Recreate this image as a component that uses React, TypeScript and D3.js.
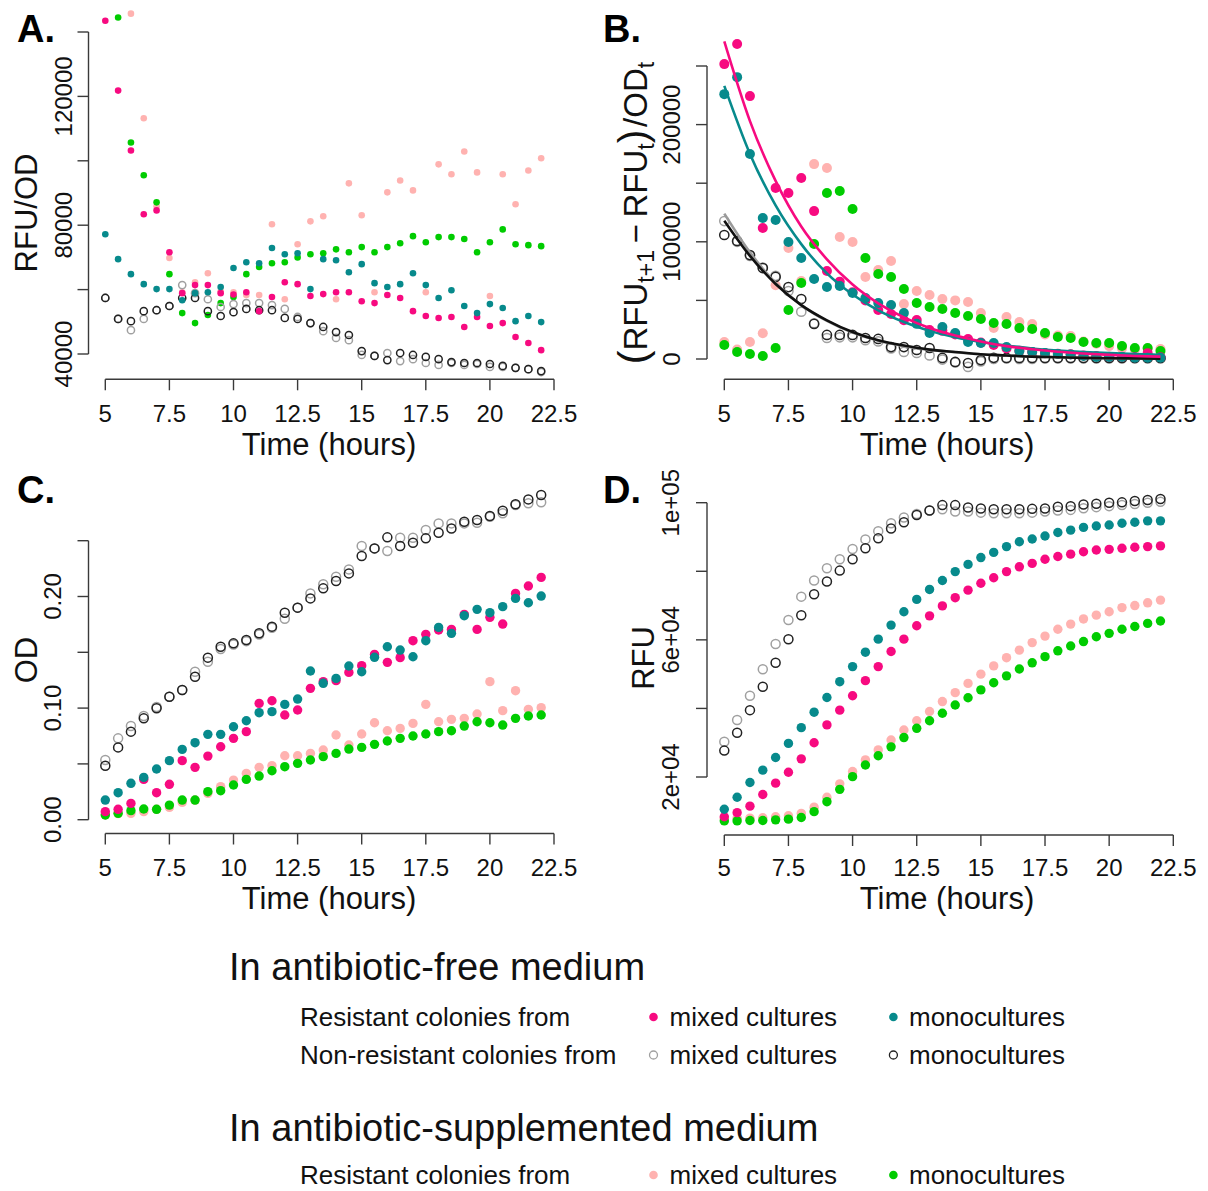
import React from 'react';
import * as d3 from 'd3';

const FONT = '"Liberation Sans", Arial, Helvetica, sans-serif';

// ---------- shared categories ----------
const TIMES = [5, 5.5, 6, 6.5, 7, 7.5, 8, 8.5, 9, 9.5, 10, 10.5, 11, 11.5, 12, 12.5, 13, 13.5, 14, 14.5, 15, 15.5, 16, 16.5, 17, 17.5, 18, 18.5, 19, 19.5, 20, 20.5, 21, 21.5, 22];
const X_TICKS = [5, 7.5, 10, 12.5, 15, 17.5, 20, 22.5];
const X_TICK_LABELS = ['5', '7.5', '10', '12.5', '15', '17.5', '20', '22.5'];

// ---------- Panel A: RFU/OD ----------
const A_RES_MIXED = [143500, 121800, 103200, 83400, 84600, 71600, 58900, 61400, 61400, 58900, 58500, 59200, 53300, 57700, 62300, 61700, 58000, 58600, 59200, 59200, 56400, 55800, 58300, 57400, 53300, 51800, 51200, 51500, 48400, 51500, 48700, 49600, 45300, 43400, 41200];
const A_RES_MONO = [77200, 69450, 64800, 61700, 60150, 60150, 56700, 58900, 59200, 60800, 66700, 68500, 68200, 72900, 71000, 71300, 60150, 69450, 69100, 65400, 67900, 62000, 60800, 61700, 65100, 61400, 57400, 59800, 54900, 52700, 55500, 54300, 50200, 51800, 49900];
const A_NONRES_MIXED = [57400, 50900, 47400, 50900, 53600, 54900, 61400, 58900, 57000, 54600, 55500, 55800, 55800, 55200, 54000, 51500, 49600, 47100, 45000, 44300, 39700, 39400, 40300, 37800, 38400, 37200, 36600, 37200, 36600, 36900, 36000, 36000, 35700, 35300, 34400];
const A_NONRES_MONO = [57400, 50900, 50200, 53300, 53600, 54900, 57400, 57400, 53300, 51800, 53000, 54000, 53600, 53600, 51200, 50900, 49600, 48400, 46800, 45900, 40900, 39400, 38100, 40300, 39700, 39100, 38400, 37500, 37200, 37200, 36900, 36300, 35700, 35300, 34700];
const A_AB_MIXED = [null, null, 145700, 113200, 85900, 69800, 59200, 62300, 65100, 59500, 59200, 58300, 58300, 80300, 57000, 74100, 81200, 82800, 57000, 93000, 83100, 59200, 90200, 93900, 90800, 59200, 98900, 95800, 102900, 96400, 58000, 95800, 86500, 97000, 100800];
const A_AB_MONO = [null, 144500, 105700, 95500, 87100, 64800, 52700, 49600, 52100, 55800, 57700, 64800, 67000, 68200, 68500, 70000, 71000, 71300, 72500, 71600, 73200, 71600, 73200, 74400, 76600, 74700, 76300, 76300, 75700, 71600, 74700, 78700, 74100, 73800, 73500];
const A_Y_TICKS = [40000, 60000, 80000, 100000, 120000, 140000];
const A_Y_LABELS = ['40000', '', '80000', '', '120000', ''];

// ---------- Panel B: (RFU_t+1 - RFU_t)/OD_t ----------
const B_RES_MIXED = [251600, 268700, 224300, 111700, 145900, 141600, 154400, 126200, 75100, 66000, 57000, 50000, 41800, 38400, 33000, 33300, 24700, 24000, 21000, 17000, 14000, 12000, 9000, 7000, 6000, 5000, 4500, 4000, 3000, 2500, 2000, 2000, 1500, 5000, 1500];
const B_RES_MONO = [226000, 240500, 174900, 120300, 118600, 99800, 86200, 68200, 61400, 62300, 56300, 52000, 47800, 46100, 39200, 30000, 22200, 27300, 22200, 14500, 13600, 13600, 10200, 6800, 6000, 5100, 4300, 3800, 2600, 1700, 1700, 1700, 1000, 1000, 1000];
const B_NONRES_MIXED = [117700, 100000, 88000, 78000, 71000, 58000, 40300, 30500, 17900, 18500, 18500, 16000, 15000, 9000, 6000, 5100, 3000, -500, -3000, -6800, -2000, 0, 500, 0, 0, 500, 500, 500, 500, 500, 500, 500, 500, 500, 500];
const B_NONRES_MONO = [105800, 100700, 88700, 77600, 70000, 61400, 51200, 29900, 20500, 20500, 20500, 17900, 17100, 10200, 10200, 7700, 9400, 900, -2500, -3400, -900, 1000, 900, 900, 900, 900, 900, 900, 900, 900, 900, 900, 900, 900, 900];
const B_AB_MIXED = [14500, 8000, 14500, 22000, 63000, 94700, 66500, 166300, 162900, 104100, 99800, 70000, 75900, 83600, 47000, 58000, 54600, 51200, 50000, 48600, 39200, 26400, 35800, 31600, 29900, 21000, 20000, 19600, 15000, 13000, 11000, 9000, 8000, 9000, 8500];
const B_AB_MONO = [11900, 6000, 4300, 2600, 9400, 41800, 64800, 98100, 141600, 143300, 128000, 86200, 72500, 70000, 59700, 47800, 44400, 42700, 39200, 36700, 34100, 30700, 29900, 26400, 25600, 22200, 18800, 17900, 14500, 13600, 13600, 11100, 9400, 9400, 6800];
// fitted decay curves
const CURVE_T = [5, 6, 7, 8, 9, 10, 11, 12, 13, 14, 15, 16, 17, 18, 19, 20, 21, 22];
const CURVE_RES_MIXED = [271000, 203000, 152000, 113000, 85000, 63500, 47500, 35500, 26500, 20000, 15000, 11000, 8300, 6200, 4700, 3500, 2600, 2000];
const CURVE_RES_MONO = [233000, 175000, 131000, 98000, 73000, 55000, 41500, 31500, 24000, 18500, 14500, 11500, 9000, 7300, 6000, 5000, 4200, 3500];
const CURVE_NONRES_MIXED = [124000, 91000, 65000, 46000, 32500, 22500, 15500, 11000, 7800, 5800, 4000, 3000, 2000, 1500, 1000, 700, 500, 300];
const CURVE_NONRES_MONO = [118000, 88000, 64000, 46000, 33000, 23000, 16000, 11500, 8000, 6000, 4000, 3000, 2000, 1500, 1000, 700, 500, 300];
const B_Y_TICKS = [0, 50000, 100000, 150000, 200000, 250000];
const B_Y_LABELS = ['0', '', '100000', '', '200000', ''];

// ---------- Panel C: OD ----------
const C_RES_MIXED = [0.0072, 0.0093, 0.0146, 0.0361, 0.0242, 0.0317, 0.0529, 0.0469, 0.057, 0.0654, 0.0729, 0.0789, 0.1042, 0.1066, 0.0938, 0.0983, 0.1177, 0.1237, 0.1246, 0.132, 0.138, 0.1481, 0.141, 0.1452, 0.1604, 0.1661, 0.17, 0.1705, 0.184, 0.1705, 0.1813, 0.1753, 0.2028, 0.2094, 0.2171];
const C_RES_MONO = [0.0176, 0.0242, 0.0326, 0.0379, 0.0454, 0.0529, 0.063, 0.069, 0.0765, 0.0765, 0.0833, 0.0887, 0.0959, 0.0968, 0.1033, 0.1081, 0.1332, 0.1222, 0.1266, 0.1377, 0.1326, 0.1455, 0.155, 0.152, 0.146, 0.1604, 0.1723, 0.167, 0.1828, 0.1885, 0.1855, 0.1909, 0.1983, 0.1944, 0.2004];
const C_NONRES_MIXED = [0.0535, 0.0729, 0.0839, 0.0929, 0.101, 0.1102, 0.1162, 0.1326, 0.1416, 0.153, 0.157, 0.16, 0.166, 0.172, 0.18, 0.19, 0.2028, 0.211, 0.2177, 0.2243, 0.2452, 0.2431, 0.2407, 0.2527, 0.2527, 0.2596, 0.2655, 0.2655, 0.2655, 0.266, 0.2715, 0.2745, 0.282, 0.2835, 0.2844];
const C_NONRES_MONO = [0.0484, 0.0648, 0.0789, 0.0908, 0.0998, 0.1102, 0.1162, 0.1281, 0.1452, 0.155, 0.158, 0.161, 0.167, 0.173, 0.1855, 0.19, 0.1983, 0.2073, 0.2139, 0.2207, 0.2363, 0.2431, 0.253, 0.2452, 0.2482, 0.2521, 0.2572, 0.261, 0.267, 0.2685, 0.2721, 0.2769, 0.2826, 0.287, 0.2909];
const C_AB_MIXED = [0.0042, 0.0055, 0.0057, 0.0072, 0.0093, 0.011, 0.0155, 0.0176, 0.0236, 0.0296, 0.0355, 0.0415, 0.0469, 0.0484, 0.0573, 0.0573, 0.0594, 0.0624, 0.0759, 0.0669, 0.0768, 0.0869, 0.0797, 0.0818, 0.0863, 0.1033, 0.0878, 0.0899, 0.0908, 0.0947, 0.1237, 0.0977, 0.1156, 0.0989, 0.1004];
const C_AB_MONO = [0.0042, 0.0057, 0.0081, 0.0096, 0.0093, 0.0131, 0.0176, 0.0176, 0.0251, 0.026, 0.0311, 0.0361, 0.0391, 0.0439, 0.0475, 0.0505, 0.0535, 0.0565, 0.0594, 0.0633, 0.0648, 0.0675, 0.0705, 0.0729, 0.075, 0.0768, 0.0789, 0.0797, 0.0839, 0.0878, 0.0869, 0.0848, 0.0908, 0.0929, 0.0938];
const C_Y_TICKS = [0, 0.05, 0.1, 0.15, 0.2, 0.25];
const C_Y_LABELS = ['0.00', '', '0.10', '', '0.20', ''];

// ---------- Panel D: RFU ----------
const D_RES_MIXED = [8400, 9600, 11500, 14900, 18200, 21400, 25300, 30000, 35200, 39500, 43700, 48100, 52200, 56600, 60200, 64100, 67000, 69900, 72300, 74500, 76500, 78100, 79900, 81300, 82300, 83500, 84300, 85000, 85700, 86200, 86400, 86700, 87000, 87200, 87400];
const D_RES_MONO = [10600, 14100, 18400, 22000, 25700, 29800, 34400, 38900, 43200, 47800, 52200, 56400, 60200, 64300, 68200, 71800, 74700, 77300, 79900, 82000, 84000, 85500, 87200, 88600, 89400, 90300, 91300, 92000, 92800, 93200, 93500, 94000, 94300, 94700, 94700];
const D_NONRES_MIXED = [30300, 36600, 43700, 51400, 58800, 65800, 72600, 77300, 80900, 83500, 86500, 89300, 91700, 94000, 95700, 96700, 97700, 98100, 97400, 97400, 97100, 96900, 96900, 96900, 97100, 97400, 97700, 97900, 98400, 98700, 99000, 99300, 99600, 100000, 100300];
const D_NONRES_MONO = [27700, 32900, 39500, 46300, 53300, 60200, 67200, 73300, 77000, 80200, 83500, 86700, 89600, 92500, 94300, 96400, 97700, 99300, 99300, 98600, 98300, 98100, 98100, 98100, 98200, 98300, 98800, 99000, 99500, 99700, 100000, 100100, 100500, 100800, 101100];
const D_AB_MIXED = [8000, 8000, 8000, 8100, 8400, 8700, 9400, 11200, 14100, 18000, 21600, 25000, 27900, 30800, 33700, 36400, 39100, 42000, 44600, 47300, 50000, 52400, 54800, 57000, 59200, 61100, 63100, 64600, 66100, 67200, 68200, 69400, 70000, 70800, 71600];
const D_AB_MONO = [7200, 7200, 7300, 7300, 7500, 7700, 8200, 9900, 12800, 16400, 20100, 23500, 26200, 28800, 31500, 34200, 36400, 38600, 41000, 43100, 45400, 47500, 49500, 51500, 53300, 55100, 56800, 58200, 59500, 60900, 61900, 63100, 63900, 64800, 65500];
const D_Y_TICKS = [20000, 40000, 60000, 80000, 100000];
const D_Y_LABELS = ['2e+04', '', '6e+04', '', '1e+05'];

// ---------- legend ----------
const LEGEND_TITLES = ['In antibiotic-free medium', 'In antibiotic-supplemented medium'];
const LEGEND_ROWS = ['Resistant colonies from', 'Non-resistant colonies from', 'Resistant colonies from'];
const LEGEND_ITEMS = ['mixed cultures', 'monocultures'];

const COL = {
  resMixed: '#F70A80',
  resMono: '#078A8C',
  abMixed: '#FFB2B0',
  abMono: '#00CC00',
  nonMixed: '#A0A0A0',
  nonMono: '#222222',
};

type Ser = { values: (number | null)[]; color: string; open: boolean };

function mkSeries(abMixed: any[], abMono: any[], nonMixed: any[], nonMono: any[], resMixed: any[], resMono: any[]): Ser[] {
  return [
    { values: abMixed, color: COL.abMixed, open: false },
    { values: abMono, color: COL.abMono, open: false },
    { values: nonMixed, color: COL.nonMixed, open: true },
    { values: nonMono, color: COL.nonMono, open: true },
    { values: resMixed, color: COL.resMixed, open: false },
    { values: resMono, color: COL.resMono, open: false },
  ];
}

type Cfg = {
  letter: string; letterX: number; letterY: number;
  xRange: [number, number]; xAxisY: number; xTickBase: number; xLabX: number; xLabY: number;
  yDomain: [number, number]; yRange: [number, number]; yAxisX: number;
  yTicks: number[]; yLabels: string[]; yTickBase: number;
  ylabX: number; ylabY: number; ylab: React.ReactNode; ylabSize: number;
  series: Ser[]; r: number; or: number;
  curves?: { values: number[]; color: string }[];
};

const AXIS_COL = '#3a3a3a';

function Panel({ c }: { c: Cfg }) {
  const x = d3.scaleLinear().domain([5, 22.5]).range(c.xRange);
  const y = d3.scaleLinear().domain(c.yDomain).range(c.yRange);
  const line = d3.line<number>().x((_, i) => x(CURVE_T[i])).y((d) => y(d)).curve(d3.curveMonotoneX);
  const yt = c.yTicks;
  return (
    <g>
      {c.series.map((s, si) => (
        <g key={si}>
          {s.values.map((v, i) =>
            v == null ? null : s.open ? (
              <circle key={i} cx={x(TIMES[i])} cy={y(v)} r={c.or} fill="none" stroke={s.color} strokeWidth={1.5} />
            ) : (
              <circle key={i} cx={x(TIMES[i])} cy={y(v)} r={c.r} fill={s.color} />
            )
          )}
        </g>
      ))}
      {c.curves && c.curves.map((cv, i) => (
        <path key={i} d={line(cv.values) || ''} fill="none" stroke={cv.color} strokeWidth={2.6} />
      ))}
      {/* y axis */}
      <line x1={c.yAxisX} x2={c.yAxisX} y1={y(yt[0])} y2={y(yt[yt.length - 1])} stroke={AXIS_COL} strokeWidth={1.4} />
      {yt.map((t, i) => (
        <g key={i}>
          <line x1={c.yAxisX - 11} x2={c.yAxisX} y1={y(t)} y2={y(t)} stroke={AXIS_COL} strokeWidth={1.4} />
          {c.yLabels[i] ? (
            <text transform={`translate(${c.yTickBase},${y(t)}) rotate(-90)`} textAnchor="middle" fontSize={24} fill="#111">{c.yLabels[i]}</text>
          ) : null}
        </g>
      ))}
      {/* x axis */}
      <line x1={x(X_TICKS[0])} x2={x(X_TICKS[X_TICKS.length - 1])} y1={c.xAxisY} y2={c.xAxisY} stroke={AXIS_COL} strokeWidth={1.4} />
      {X_TICKS.map((t, i) => (
        <g key={i}>
          <line x1={x(t)} x2={x(t)} y1={c.xAxisY} y2={c.xAxisY + 11} stroke={AXIS_COL} strokeWidth={1.4} />
          <text x={x(t)} y={c.xTickBase} textAnchor="middle" fontSize={24} fill="#111">{X_TICK_LABELS[i]}</text>
        </g>
      ))}
      <text x={c.xLabX} y={c.xLabY} textAnchor="middle" fontSize={31} fill="#111">Time (hours)</text>
      <text transform={`translate(${c.ylabX},${c.ylabY}) rotate(-90)`} textAnchor="middle" fontSize={c.ylabSize} fill="#111">{c.ylab}</text>
      <text x={c.letterX} y={c.letterY} fontSize={38} fontWeight="bold" fill="#000">{c.letter}</text>
    </g>
  );
}

const SUB = 7;
const SUBFS = 23;
const PARFS = 41;
const bLabel = (
  <>
    <tspan fontSize={PARFS}>(</tspan>
    <tspan>RFU</tspan>
    <tspan dy={SUB} fontSize={SUBFS}>t+1</tspan>
    <tspan dy={-SUB}>{'\u2009−\u2009'}RFU</tspan>
    <tspan dy={SUB} fontSize={SUBFS}>t</tspan>
    <tspan dy={-SUB} fontSize={PARFS}>)</tspan>
    <tspan>{'\u200A'}/OD</tspan>
    <tspan dy={SUB} fontSize={SUBFS}>t</tspan>
  </>
);

const panels: Cfg[] = [
  {
    letter: 'A.', letterX: 17, letterY: 42,
    xRange: [105.3, 554], xAxisY: 379.3, xTickBase: 422, xLabX: 329, xLabY: 455,
    yDomain: [40000, 140000], yRange: [354, 32], yAxisX: 88.5,
    yTicks: A_Y_TICKS, yLabels: A_Y_LABELS, yTickBase: 72,
    ylabX: 37, ylabY: 213, ylab: 'RFU/OD', ylabSize: 31,
    series: mkSeries(A_AB_MIXED, A_AB_MONO, A_NONRES_MIXED, A_NONRES_MONO, A_RES_MIXED, A_RES_MONO),
    r: 3.3, or: 3.6,
  },
  {
    letter: 'B.', letterX: 603, letterY: 42,
    xRange: [724.3, 1173.3], xAxisY: 379.3, xTickBase: 422, xLabX: 947, xLabY: 455,
    yDomain: [0, 250000], yRange: [359, 66], yAxisX: 707,
    yTicks: B_Y_TICKS, yLabels: B_Y_LABELS, yTickBase: 680,
    ylabX: 647, ylabY: 213, ylab: bLabel, ylabSize: 33,
    series: mkSeries(B_AB_MIXED, B_AB_MONO, B_NONRES_MIXED, B_NONRES_MONO, B_RES_MIXED, B_RES_MONO),
    r: 5, or: 4.6,
    curves: [
      { values: CURVE_NONRES_MIXED, color: '#9a9a9a' },
      { values: CURVE_NONRES_MONO, color: '#111111' },
      { values: CURVE_RES_MONO, color: COL.resMono },
      { values: CURVE_RES_MIXED, color: COL.resMixed },
    ],
  },
  {
    letter: 'C.', letterX: 17, letterY: 503,
    xRange: [105.3, 554], xAxisY: 833.5, xTickBase: 876, xLabX: 329, xLabY: 909,
    yDomain: [0, 0.25], yRange: [819.7, 540.7], yAxisX: 88.5,
    yTicks: C_Y_TICKS, yLabels: C_Y_LABELS, yTickBase: 61,
    ylabX: 37, ylabY: 660, ylab: 'OD', ylabSize: 31,
    series: mkSeries(C_AB_MIXED, C_AB_MONO, C_NONRES_MIXED, C_NONRES_MONO, C_RES_MIXED, C_RES_MONO),
    r: 4.7, or: 4.5,
  },
  {
    letter: 'D.', letterX: 603, letterY: 503,
    xRange: [724.3, 1173.3], xAxisY: 835, xTickBase: 876, xLabX: 947, xLabY: 909,
    yDomain: [20000, 100000], yRange: [777, 502.7], yAxisX: 707,
    yTicks: D_Y_TICKS, yLabels: D_Y_LABELS, yTickBase: 679,
    ylabX: 654, ylabY: 658, ylab: 'RFU', ylabSize: 31,
    series: mkSeries(D_AB_MIXED, D_AB_MONO, D_NONRES_MIXED, D_NONRES_MONO, D_RES_MIXED, D_RES_MONO),
    r: 4.7, or: 4.5,
  },
];

function Legend() {
  const symX = [653.5, 893.4];
  const txtX = [669.5, 909];
  const rows = [
    { label: LEGEND_ROWS[0], y: 1026, cols: [{ c: COL.resMixed, open: false }, { c: COL.resMono, open: false }] },
    { label: LEGEND_ROWS[1], y: 1064, cols: [{ c: COL.nonMixed, open: true }, { c: COL.nonMono, open: true }] },
    { label: LEGEND_ROWS[2], y: 1184, cols: [{ c: COL.abMixed, open: false }, { c: COL.abMono, open: false }] },
  ];
  return (
    <g fill="#111">
      <text x={229} y={980} fontSize={38}>{LEGEND_TITLES[0]}</text>
      <text x={229} y={1141} fontSize={38}>{LEGEND_TITLES[1]}</text>
      {rows.map((r, i) => (
        <g key={i}>
          <text x={300} y={r.y} fontSize={26}>{r.label}</text>
          {r.cols.map((cc, j) => (
            <g key={j}>
              {cc.open ? (
                <circle cx={symX[j]} cy={r.y - 9} r={4} fill="none" stroke={cc.c} strokeWidth={1.3} />
              ) : (
                <circle cx={symX[j]} cy={r.y - 9} r={4.3} fill={cc.c} />
              )}
              <text x={txtX[j]} y={r.y} fontSize={26}>{LEGEND_ITEMS[j]}</text>
            </g>
          ))}
        </g>
      ))}
    </g>
  );
}

export default function App() {
  return (
    <svg width={1208} height={1191} style={{ position: 'absolute', left: 0, top: 0, background: '#fff' }} fontFamily={FONT}>
      <rect x={0} y={0} width={1208} height={1191} fill="#fff" />
      {panels.map((p, i) => (
        <Panel key={i} c={p} />
      ))}
      <Legend />
    </svg>
  );
}
